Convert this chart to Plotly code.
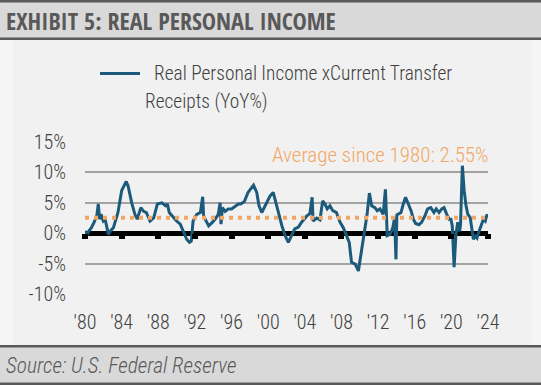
import plotly.graph_objects as go

# ---- data (decimal years, YoY %) ----
years = [
    1980.0, 1980.1, 1980.4, 1980.7, 1981.0, 1981.3, 1981.45, 1981.6, 1981.75, 1982.0,
    1982.2, 1982.55, 1982.8, 1983.1, 1983.6, 1984.0, 1984.5, 1984.7, 1985.1, 1985.45,
    1985.7, 1986.1, 1986.4, 1986.7, 1987.1, 1987.5, 1987.9, 1988.4, 1988.8, 1989.0,
    1989.2, 1989.65, 1990.0, 1990.4, 1990.8, 1991.1, 1991.4, 1991.6, 1991.8, 1992.2,
    1992.6, 1992.85, 1992.95, 1993.2, 1993.5, 1993.85, 1994.2, 1994.55, 1994.75, 1994.85,
    1995.0, 1995.3, 1995.65, 1996.0, 1996.4, 1996.75, 1997.0, 1997.4, 1997.8, 1998.4,
    1998.75, 1999.0, 1999.3, 1999.65, 2000.2, 2000.55, 2000.9, 2001.1, 2001.5, 2001.85,
    2002.2, 2002.55, 2002.9, 2003.3, 2003.65, 2004.2, 2004.55, 2004.8, 2004.9, 2005.3,
    2005.65, 2005.95, 2006.2, 2006.45, 2006.75, 2007.05, 2007.45, 2007.85, 2008.2, 2008.55,
    2008.85, 2009.1, 2009.5, 2009.85, 2010.1, 2010.4, 2010.8, 2011.05, 2011.3, 2011.65,
    2011.9, 2012.2, 2012.55, 2012.8, 2013.0, 2013.3, 2013.6, 2013.8, 2013.95, 2014.05,
    2014.5, 2014.75, 2015.0, 2015.3, 2015.6, 2015.85, 2016.1, 2016.45, 2016.75, 2017.1,
    2017.4, 2017.75, 2018.1, 2018.35, 2018.65, 2018.95, 2019.2, 2019.5, 2019.75, 2019.95,
    2020.1, 2020.3, 2020.5, 2020.7, 2020.9, 2021.0, 2021.2, 2021.4, 2021.6, 2021.8,
    2022.05, 2022.25, 2022.4, 2022.6, 2022.8, 2022.95, 2023.15, 2023.35, 2023.5, 2023.7,
    2023.9, 2024.0,
]
income_yoy = [
    0.4, -0.7, 0.3, 0.9, 1.8, 3.0, 4.8, 2.3, 3.1, 2.0,
    2.3, -0.2, 0.4, 0.9, 3.4, 7.0, 8.5, 7.8, 5.0, 3.1,
    2.3, 4.2, 3.6, 3.4, 2.0, 2.5, 4.8, 5.0, 4.5, 4.8,
    3.4, 2.6, 2.0, 1.5, 0.0, -1.0, -1.5, -1.3, 2.0, 3.1,
    3.4, 6.0, 2.8, 2.0, 1.2, 1.7, 2.3, 3.1, 5.0, 1.5,
    4.2, 3.6, 4.0, 4.0, 4.5, 4.8, 4.8, 5.2, 6.7, 7.9,
    6.7, 4.5, 3.4, 4.5, 6.1, 6.7, 4.5, 3.7, 1.2, -0.4,
    -1.5, -0.4, 0.7, 1.0, 1.8, 2.8, 3.2, 5.9, 2.0, 2.5,
    2.2, 5.3, 4.8, 4.0, 4.5, 3.7, 3.4, 1.8, 0.9, -0.4,
    -1.5, -4.8, -5.1, -6.2, -3.7, -0.4, 3.1, 6.6, 4.5, 4.2,
    3.7, 4.0, 3.1, 7.2, -0.4, -0.2, 0.9, 2.5, -4.3, 3.0,
    3.4, 4.8, 5.9, 4.8, 3.7, 2.3, 1.6, 1.4, 1.8, 2.8,
    4.0, 4.2, 3.4, 4.0, 3.4, 4.0, 4.2, 3.1, 2.3, 2.3,
    1.2, -5.6, -0.2, 1.8, 0.3, 1.4, 11.1, 7.0, 4.5, 3.1,
    2.6, 0.6, -1.0, -0.5, -0.8, 0.0, 0.8, 1.8, 2.3, 2.0,
    3.1, 2.6,
]
average_value = 2.55
avg_x = [1980, 2024]
avg_y = [average_value, average_value]

tick_years = [1980, 1984, 1988, 1992, 1996, 2000, 2004, 2008, 2012, 2016, 2020, 2024]
tick_labels = ["'80", "'84", "'88", "'92", "'96", "'00", "'04", "'08", "'12", "'16", "'20", "'24"]
y_ticks = [-10, -5, 0, 5, 10, 15]
y_tick_labels = ["-10%", "-5%", "0%", "5%", "10%", "15%"]

series_name_1 = "Real Personal Income xCurrent Transfer"
series_name_2 = "Receipts (YoY%)"
title_text = "EXHIBIT 5: REAL PERSONAL INCOME"
source_text = "Source: U.S. Federal Reserve"
avg_text = "Average since 1980: 2.55%"

# ---- styling ----
W, H = 541, 385
ML, MR, MT, MB = 85, 53, 142, 91
PW = W - ML - MR
PH = H - MT - MB
FONT = "Roboto Condensed Light, Roboto Condensed, Liberation Sans Narrow, sans-serif"
BOLD_FONT = "Open Sans Condensed, Liberation Sans Narrow, sans-serif"
LINE_COLOR = "#1c5a7b"
ORANGE = "#f2a766"
TEXT = "#404040"
BAND = "#d9d9d9"
BORDER = "#595959"


def xp(px):
    return (px - ML) / PW


def yp(py):
    return (H - MB - py) / PH


fig = go.Figure()
fig.add_trace(go.Scatter(
    x=avg_x, y=avg_y, xaxis="x2", mode="lines",
    line=dict(color=ORANGE, width=4, dash="4px,5px"),
    hoverinfo="skip", showlegend=False,
))
fig.add_trace(go.Scatter(
    x=years, y=income_yoy, mode="lines",
    line=dict(color=LINE_COLOR, width=3),
    name=series_name_1 + " " + series_name_2, showlegend=False,
))

shapes = [
    dict(type="rect", xref="paper", yref="paper", x0=xp(0), x1=xp(W), y0=yp(40), y1=yp(346),
         fillcolor="#f5f5f5", line_width=0, layer="below"),
    dict(type="rect", xref="paper", yref="paper", x0=xp(13), x1=xp(532), y0=yp(40), y1=yp(346),
         fillcolor="#f1f1f1", line_width=0, layer="below"),
    dict(type="rect", xref="paper", yref="paper", x0=xp(0), x1=xp(W), y0=yp(0), y1=yp(40),
         fillcolor=BORDER, line_width=0, layer="below"),
    dict(type="rect", xref="paper", yref="paper", x0=xp(0), x1=xp(W), y0=yp(2.5), y1=yp(37.5),
         fillcolor=BAND, line_width=0, layer="below"),
    dict(type="rect", xref="paper", yref="paper", x0=xp(0), x1=xp(W), y0=yp(345), y1=yp(385),
         fillcolor=BORDER, line_width=0, layer="below"),
    dict(type="rect", xref="paper", yref="paper", x0=xp(0), x1=xp(W), y0=yp(347.5), y1=yp(382.5),
         fillcolor=BAND, line_width=0, layer="below"),
    dict(type="line", xref="paper", yref="paper", x0=xp(100), x1=xp(140), y0=yp(73.5), y1=yp(73.5),
         line=dict(color=LINE_COLOR, width=3)),
]

annotations = [
    dict(text=title_text, xref="paper", yref="paper", x=xp(4), y=yp(20), xanchor="left",
         yanchor="middle", showarrow=False,
         font=dict(family=BOLD_FONT, size=24, color=BORDER, weight="bold")),
    dict(text=source_text, xref="paper", yref="paper", x=xp(4), y=yp(365.5), xanchor="left",
         yanchor="middle", showarrow=False,
         font=dict(family=FONT, size=21.4, color=BORDER, style="italic")),
    dict(text=series_name_1, xref="paper", yref="paper", x=xp(152), y=yp(73), xanchor="left",
         yanchor="middle", showarrow=False, font=dict(family=FONT, size=19.4, color=TEXT)),
    dict(text=series_name_2, xref="paper", yref="paper", x=xp(143), y=yp(101.5), xanchor="left",
         yanchor="middle", showarrow=False, font=dict(family=FONT, size=19.4, color=TEXT)),
    dict(text=avg_text, xref="paper", yref="paper", x=xp(491), y=yp(155), xanchor="right",
         yanchor="middle", showarrow=False, font=dict(family=FONT, size=21, color=ORANGE)),
]

fig.update_layout(
    width=W, height=H,
    margin=dict(l=ML, r=MR, t=MT, b=MB, pad=0),
    paper_bgcolor="#f5f5f5",
    plot_bgcolor="rgba(0,0,0,0)",
    showlegend=False,
    shapes=shapes,
    annotations=annotations,
    xaxis=dict(
        range=[1980, 2024], tickmode="array", tickvals=tick_years, ticktext=tick_labels,
        showgrid=False, zeroline=False, showline=False, ticks="",
        ticklabelstandoff=14,
        tickfont=dict(family=FONT, size=20, color=TEXT),
    ),
    xaxis2=dict(
        range=[1980, 2024], overlaying="x", anchor="free", position=10 / 25,
        tickmode="array", tickvals=tick_years, showticklabels=False,
        ticks="outside", ticklen=5, tickwidth=6, tickcolor="#000000",
        showgrid=False, zeroline=False, showline=False,
    ),
    yaxis=dict(
        range=[-10, 15], tickmode="array", tickvals=y_ticks, ticktext=y_tick_labels,
        showgrid=True, gridcolor="#a3a3a3", gridwidth=1.5,
        zeroline=True, zerolinecolor="#000000", zerolinewidth=5,
        showline=False, ticks="", ticklabelstandoff=18,
        tickfont=dict(family=FONT, size=20, color=TEXT),
    ),
)

fig.write_html("out.html", config={"displayModeBar": False},
               post_script="document.body.style.margin='0';")
